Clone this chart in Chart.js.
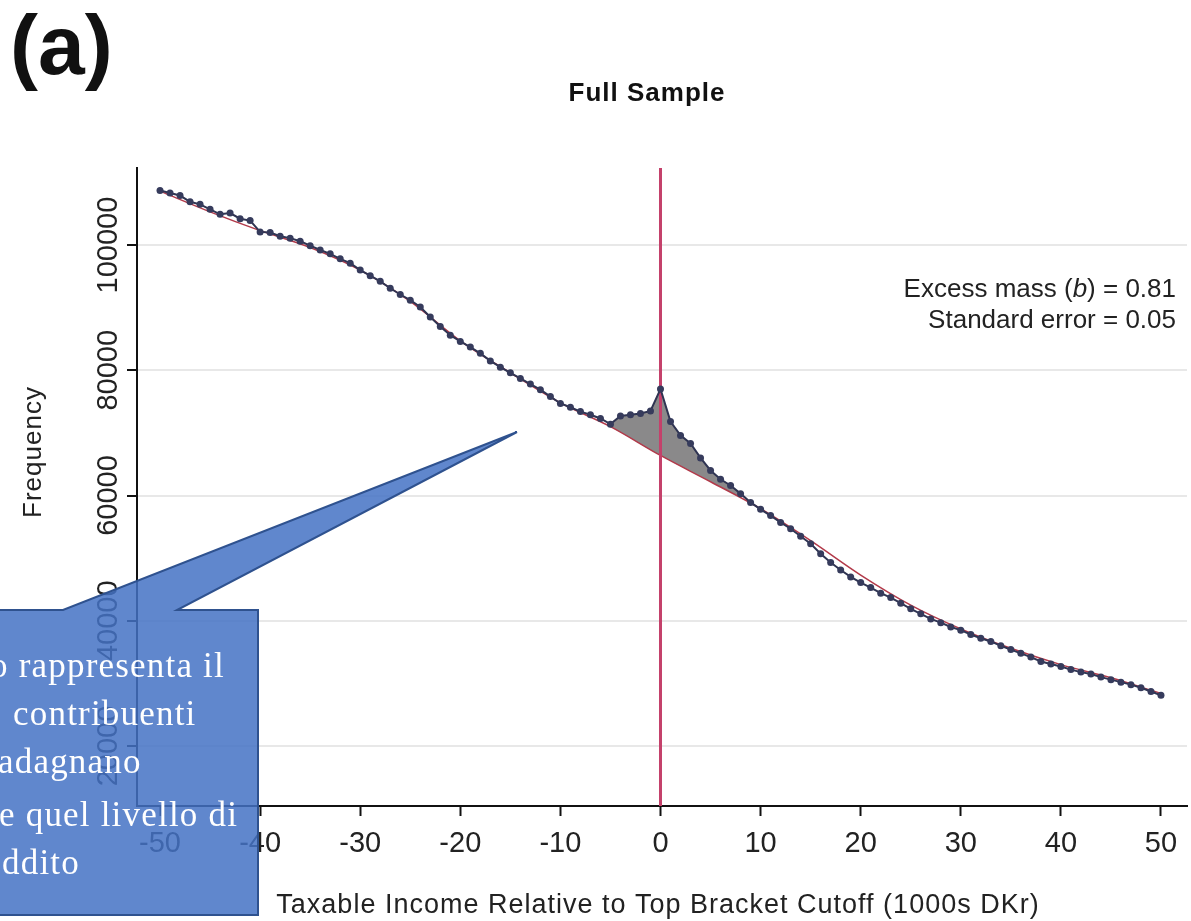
<!DOCTYPE html>
<html lang="en">
<head>
  <meta charset="UTF-8" />
  <title>Full Sample - Excess mass at top bracket cutoff</title>
  <script src="https://cdn.jsdelivr.net/npm/chart.js"></script>
  <style>
    body { margin: 0; background: #fff; }
    #wrap { width: 1191px; height: 921px; }
  </style>
</head>
<body>
  <div id="wrap"><canvas id="bunching" width="1191" height="921"></canvas></div>

  <script>
    // income bins relative to the top bracket cutoff (1000s DKr)
    const bins = [
      -50, -49, -48, -47, -46, -45, -44, -43, -42, -41,
      -40, -39, -38, -37, -36, -35, -34, -33, -32, -31,
      -30, -29, -28, -27, -26, -25, -24, -23, -22, -21,
      -20, -19, -18, -17, -16, -15, -14, -13, -12, -11,
      -10, -9, -8, -7, -6, -5, -4, -3, -2, -1,
      0, 1, 2, 3, 4, 5, 6, 7, 8, 9,
      10, 11, 12, 13, 14, 15, 16, 17, 18, 19,
      20, 21, 22, 23, 24, 25, 26, 27, 28, 29,
      30, 31, 32, 33, 34, 35, 36, 37, 38, 39,
      40, 41, 42, 43, 44, 45, 46, 47, 48, 49,
      50
    ];
    // observed frequency per bin
    const freq = [
      108700, 108300, 107900, 106900, 106500, 105700, 104900, 105100, 104200, 103900,
      102100, 102000, 101400, 101100, 100600, 99900, 99200, 98600, 97800, 97100,
      96000, 95100, 94200, 93100, 92100, 91200, 90100, 88500, 87000, 85600,
      84600, 83700, 82700, 81500, 80500, 79600, 78700, 77800, 76900, 75800,
      74700, 74100, 73400, 72900, 72300, 71400, 72700, 72900, 73100, 73500,
      77000, 71800, 69600, 68300, 66000, 64000, 62600, 61600, 60300, 58900,
      57800, 56800, 55700, 54700, 53500, 52300, 50700, 49300, 48100, 47000,
      46100, 45300, 44400, 43700, 42800, 41900, 41100, 40300, 39700, 39000,
      38500, 37800, 37200, 36700, 36000, 35400, 34800, 34200, 33500, 33100,
      32700, 32200, 31800, 31500, 31000, 30600, 30200, 29800, 29300, 28700,
      28100
    ];
    // counterfactual polynomial fit, read every 5 bins
    const fitBins = [-50, -45, -40, -35, -30, -25, -20, -15, -10, -5, 0, 5, 10, 15, 20, 25, 30, 35, 40, 45, 50];
    const fitFreq = [108600, 105300, 102300, 99600, 96000, 91000, 84700, 79600, 74800, 71000, 66400, 62200, 57900, 52800, 47300, 42500, 38700, 35600, 33000, 30900, 28400];

    const cutoff = 0;
    const bunchFrom = -5;
    const bunchTo = 8;

    const xTicks = [-50, -40, -30, -20, -10, 0, 10, 20, 30, 40, 50];
    const yTicks = [20000, 40000, 60000, 80000, 100000];

    const xMin = -52.3, xMax = 52.6;
    const yMin = 10420, yMax = 112300;

    const FONT = "'Liberation Sans', Arial, sans-serif";
    Chart.defaults.font.family = FONT;

    const pts = (xs, ys) => xs.map((x, i) => ({ x: x, y: ys[i] }));
    const windowPts = pts(bins, freq).filter(p => p.x >= bunchFrom && p.x <= bunchTo);

    // texts, rotated y labels and the callout box
    const overlay = {
      id: 'overlay',
      afterDraw(chart) {
        const ctx = chart.ctx;
        const y = chart.scales.y;
        ctx.save();
        ctx.fillStyle = '#111';

        ctx.font = 'bold 84px ' + FONT;
        ctx.textAlign = 'left';
        ctx.fillText('(a)', 10, 74);

        ctx.font = 'bold 26px ' + FONT;
        ctx.textAlign = 'center';
        ctx.letterSpacing = '1px';
        ctx.fillText('Full Sample', 647, 101);
        ctx.letterSpacing = '0px';

        // y tick labels, vertical
        ctx.fillStyle = '#222';
        ctx.font = '29px ' + FONT;
        yTicks.forEach(v => {
          ctx.save();
          ctx.translate(117, y.getPixelForValue(v));
          ctx.rotate(-Math.PI / 2);
          ctx.textAlign = 'center';
          ctx.fillText(String(v), 0, 0);
          ctx.restore();
        });

        ctx.font = '26px ' + FONT;
        ctx.letterSpacing = '1px';
        ctx.save();
        ctx.translate(41, 452);
        ctx.rotate(-Math.PI / 2);
        ctx.textAlign = 'center';
        ctx.fillText('Frequency', 0, 0);
        ctx.restore();

        ctx.textAlign = 'center';
        ctx.font = '27px ' + FONT;
        ctx.fillText('Taxable Income Relative to Top Bracket Cutoff (1000s DKr)', 658, 913);
        ctx.letterSpacing = '0px';

        // excess mass note, right aligned
        ctx.font = '26px ' + FONT;
        ctx.textAlign = 'left';
        const a = 'Excess mass (', b = 'b', c = ') = 0.81';
        const wa = ctx.measureText(a).width, wc = ctx.measureText(c).width;
        ctx.font = 'italic 26px ' + FONT;
        const wb = ctx.measureText(b).width;
        let x0 = 1176 - wa - wb - wc;
        ctx.font = '26px ' + FONT;
        ctx.fillText(a, x0, 297);
        ctx.font = 'italic 26px ' + FONT;
        ctx.fillText(b, x0 + wa, 297);
        ctx.font = '26px ' + FONT;
        ctx.fillText(c, x0 + wa + wb, 297);
        ctx.textAlign = 'right';
        ctx.fillText('Standard error = 0.05', 1176, 328);

        // callout
        ctx.beginPath();
        ctx.moveTo(-5, 610);
        ctx.lineTo(63, 610);
        ctx.lineTo(517, 432);
        ctx.lineTo(177, 610);
        ctx.lineTo(258, 610);
        ctx.lineTo(258, 915);
        ctx.lineTo(-5, 915);
        ctx.closePath();
        ctx.fillStyle = 'rgba(68, 114, 196, 0.85)';
        ctx.fill();
        ctx.strokeStyle = '#2f528f';
        ctx.lineWidth = 2;
        ctx.stroke();

        ctx.fillStyle = '#fff';
        ctx.font = "35px 'Liberation Serif', 'Times New Roman', serif";
        ctx.textAlign = 'left';
        ctx.letterSpacing = '1.2px';
        ctx.fillText('o rappresenta il', -10, 677);
        ctx.fillText('contribuenti', 13, 725);
        ctx.fillText('adagnano', -2, 773);
        ctx.fillText('e quel livello di', -1, 826);
        ctx.fillText('ddito', 2, 874);
        ctx.restore();
      }
    };

    new Chart(document.getElementById('bunching'), {
      type: 'line',
      data: {
        datasets: [
          {
            label: 'Observed',
            data: pts(bins, freq),
            borderColor: '#2f3452',
            borderWidth: 2,
            pointRadius: 3.5,
            pointBackgroundColor: '#363b5c',
            pointBorderWidth: 0,
            fill: false,
            order: 0
          },
          {
            label: 'Cutoff',
            data: [{ x: cutoff, y: yMin }, { x: cutoff, y: yMax }],
            borderColor: '#c4416b',
            borderWidth: 3,
            pointRadius: 0,
            fill: false,
            order: 1
          },
          {
            label: 'Counterfactual',
            data: pts(fitBins, fitFreq),
            borderColor: '#b23a4a',
            borderWidth: 1.5,
            pointRadius: 0,
            cubicInterpolationMode: 'monotone',
            fill: false,
            order: 2
          },
          {
            label: 'Excess mass',
            data: windowPts,
            borderWidth: 0,
            pointRadius: 0,
            fill: 2,
            backgroundColor: 'rgba(118, 116, 118, 0.85)',
            order: 3
          }
        ]
      },
      options: {
        responsive: false,
        animation: false,
        devicePixelRatio: 1,
        layout: { padding: { top: 168, left: 0, right: 0, bottom: 0 } },
        plugins: { legend: { display: false }, tooltip: { enabled: false } },
        scales: {
          x: {
            type: 'linear',
            min: xMin,
            max: xMax,
            afterBuildTicks: s => { s.ticks = xTicks.map(v => ({ value: v })); },
            afterFit: s => { s.height = 115; s.paddingLeft = 0; s.paddingRight = 0; },
            grid: { drawOnChartArea: false, tickLength: 10, tickColor: '#111', tickWidth: 2 },
            border: { color: '#111', width: 2 },
            ticks: { font: { size: 29 }, color: '#222', padding: 11, maxRotation: 0, autoSkip: false }
          },
          y: {
            min: yMin,
            max: yMax,
            afterBuildTicks: s => { s.ticks = yTicks.map(v => ({ value: v })); },
            afterFit: s => { s.width = 137; s.paddingTop = 0; s.paddingBottom = 0; },
            grid: { color: '#e8e8e8', lineWidth: 2, tickLength: 10, tickColor: '#111', tickWidth: 2 },
            border: { color: '#111', width: 2 },
            ticks: { display: false }
          }
        }
      },
      plugins: [overlay]
    });
  </script>
</body>
</html>
